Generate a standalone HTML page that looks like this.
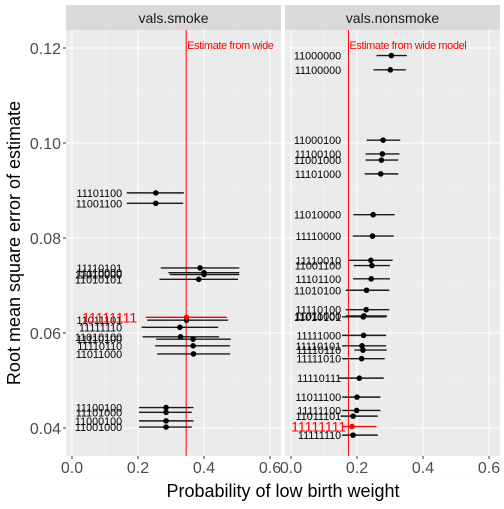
<!DOCTYPE html>
<html><head><meta charset="utf-8"><style>
body{margin:0;background:#fff;}
svg text{font-family:"Liberation Sans",sans-serif;}
</style></head><body>
<svg id="chart" width="504" height="504" xmlns="http://www.w3.org/2000/svg"></svg>
<script>
const panelNames=["vals.smoke","vals.nonsmoke"];
const smokeLabels=["11101100","11001100","11110101","11110000","11010000","11010101","11011101","11111110","11010100","11110100","11110110","11011000","11100100","11101000","11000100","11001000","11111111"];
const smokeRmse=[0.0895,0.0873,0.0737,0.0727,0.0723,0.0713,0.0627,0.0612,0.0592,0.0587,0.0573,0.0556,0.0443,0.0433,0.0415,0.0402,0.0633];
const smokeEst=[0.254,0.254,0.388,0.400,0.400,0.384,0.347,0.327,0.329,0.367,0.367,0.368,0.285,0.285,0.285,0.285,0.347];
const smokeLo=[0.166,0.166,0.269,0.292,0.296,0.265,0.228,0.211,0.214,0.255,0.252,0.258,0.203,0.203,0.203,0.203,0.224];
const smokeHi=[0.339,0.337,0.507,0.507,0.507,0.503,0.473,0.443,0.446,0.481,0.479,0.479,0.368,0.363,0.368,0.363,0.469];
const nonLabels=["11000000","11100000","11000100","11100100","11001000","11101000","11010000","11110000","11110010","11001100","11101100","11010100","11110100","11011000","11010101","11111000","11110101","11110110","11111010","11110111","11011100","11111100","11011101","11111110","11111111"];
const nonRmse=[0.1184,0.1154,0.1006,0.0977,0.0964,0.0935,0.0849,0.0804,0.0753,0.0742,0.0714,0.0690,0.0649,0.0636,0.0634,0.0595,0.0573,0.0564,0.0546,0.0505,0.0465,0.0437,0.0425,0.0385,0.0403];
const nonEst=[0.304,0.301,0.279,0.277,0.274,0.272,0.249,0.247,0.242,0.245,0.243,0.229,0.228,0.221,0.219,0.220,0.215,0.218,0.214,0.207,0.200,0.199,0.188,0.188,0.185];
const nonLo=[0.259,0.250,0.229,0.226,0.226,0.223,0.189,0.187,0.176,0.190,0.188,0.166,0.166,0.166,0.155,0.155,0.155,0.192,0.155,0.145,0.155,0.155,0.150,0.155,0.155];
const nonHi=[0.351,0.348,0.331,0.329,0.325,0.325,0.314,0.311,0.308,0.300,0.300,0.298,0.298,0.291,0.289,0.288,0.288,0.290,0.284,0.281,0.271,0.271,0.263,0.263,0.259];
const wideEst=[0.346,0.174];
const xTicks=[0,0.2,0.4,0.6];
const xTickLabels=["0.0","0.2","0.4","0.6"];
const yTicks=[0.04,0.06,0.08,0.10,0.12];
const yTickLabels=["0.04","0.06","0.08","0.10","0.12"];
const labelPos=0.152;
const redShift=[15,5];

const svg=document.getElementById('chart');
const NS="http://www.w3.org/2000/svg";
function mk(tag,attrs,parent){const e=document.createElementNS(NS,tag);for(const k in attrs)e.setAttribute(k,attrs[k]);(parent||svg).appendChild(e);return e;}
const panels=[{x0:66,x1:281},{x0:285,x1:500}];
const pTop=30,pBottom=456;
function yS(v){return 428-(v-0.04)*4750;}
function xS(p,i){return panels[i].x0+6+p*330;}
const data=[[smokeLabels,smokeRmse,smokeEst,smokeLo,smokeHi],[nonLabels,nonRmse,nonEst,nonLo,nonHi]];

panels.forEach((pn,i)=>{
  const g=mk('g',{});
  
  
  const cid='clip'+i;
  const cp=mk('clipPath',{id:cid},g);mk('rect',{x:pn.x0,y:pTop,width:pn.x1-pn.x0,height:pBottom-pTop},cp);
  const bg=mk('rect',{x:pn.x0,y:pTop,width:pn.x1-pn.x0,height:pBottom-pTop,fill:'#ebebeb'},g);
  
  const st=mk('rect',{x:pn.x0,y:5,width:pn.x1-pn.x0,height:25,fill:'#d9d9d9'},g);
  
  const stt=mk('text',{x:(pn.x0+pn.x1)/2,y:23,'text-anchor':'middle','font-size':14,fill:'#1a1a1a'},g);
  stt.textContent=panelNames[i];
  
  for(let k=0;k<yTicks.length;k++){const v=yTicks[k]+0.01;mk('line',{x1:pn.x0,x2:pn.x1,y1:yS(v),y2:yS(v),stroke:'#f5f5f5','stroke-width':0.6},g);}
  mk('line',{x1:pn.x0,x2:pn.x1,y1:yS(0.03),y2:yS(0.03),stroke:'#f5f5f5','stroke-width':0.6},g);
  for(let k=0;k<xTicks.length-1;k++){const x=xS(xTicks[k]+0.1,i);mk('line',{x1:x,x2:x,y1:pTop,y2:pBottom,stroke:'#f5f5f5','stroke-width':0.6},g);}
  yTicks.forEach(v=>mk('line',{x1:pn.x0,x2:pn.x1,y1:yS(v),y2:yS(v),stroke:'#fff','stroke-width':1.1},g));
  xTicks.forEach((t,k)=>{
    const x=xS(t,i);
    mk('line',{x1:x,x2:x,y1:pTop,y2:pBottom,stroke:'#fff','stroke-width':1.1},g);
    mk('line',{x1:x,x2:x,y1:pBottom,y2:pBottom+3,stroke:'#333','stroke-width':1},g);
    const tl=mk('text',{x:x,y:pBottom+17,'text-anchor':'middle','font-size':16,fill:'#4d4d4d'},g);
    tl.textContent=xTickLabels[k];
    
  });
  const cg=mk('g',{'clip-path':'url(#'+cid+')'},g);
  const [lab,rm,es,lo,hi]=data[i];
  const vx=xS(wideEst[i],i);
  const vl=mk('line',{x1:vx,x2:vx,y1:pTop,y2:pBottom,stroke:'#ff0000','stroke-width':1},cg);
  
  const an=mk('text',{x:vx+1,y:49,'font-size':11,fill:'#ff0000','letter-spacing':'-0.4'},cg);
  an.textContent=i===0?'Estimate from wide':'Estimate from wide model';
  
  lab.forEach((l,k)=>{
    const red=l==="11111111";
    const y=yS(rm[k]);
    const col=red?'#ff0000':'#000';
    const ln=mk('line',{x1:xS(lo[k],i),x2:xS(hi[k],i),y1:y,y2:y,stroke:red?'#ff0000':'#1a1a1a','stroke-width':1.4},cg);
    
    const pt=mk('circle',{cx:xS(es[k],i),cy:y,r:2.8,fill:col},cg);
    
    const tx=mk('text',{x:xS(labelPos,i)+(red?redShift[i]:0),y:y+(red?5:4),'text-anchor':'end','font-size':red?14:10.8,fill:col},cg);
    tx.textContent=l;
    
  });
});
yTicks.forEach((v,k)=>{
  mk('line',{x1:63,x2:66,y1:yS(v),y2:yS(v),stroke:'#333','stroke-width':1});
  const t=mk('text',{x:61,y:yS(v)+6,'text-anchor':'end','font-size':16,fill:'#4d4d4d'});
  t.textContent=yTickLabels[k];
  
});
const xt=mk('text',{x:283,y:497,'text-anchor':'middle','font-size':18,fill:'#000'});
xt.textContent='Probability of low birth weight';

const yt=mk('text',{x:0,y:0,'text-anchor':'middle','font-size':18,fill:'#000',transform:'translate(20,243) rotate(-90)'});
yt.textContent='Root mean square error of estimate';

</script>
</body></html>
